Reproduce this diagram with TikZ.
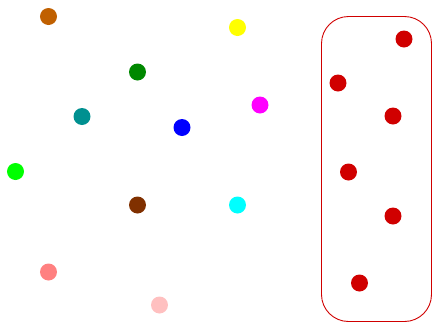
\documentclass[tikz,border=0pt]{standalone}
\usepackage{xcolor}
\usepackage{tikz}
\usetikzlibrary{positioning}

\definecolor{dotorange}{RGB}{192,96,0}
\definecolor{dotgreen}{RGB}{0,136,0}
\definecolor{dotteal}{RGB}{0,144,144}
\definecolor{dotbrown}{RGB}{128,48,0}
\definecolor{dotred}{RGB}{208,0,0}
\definecolor{dotsalmon}{RGB}{255,128,128}
\definecolor{dotpink}{RGB}{255,192,192}
\definecolor{dotmagenta}{RGB}{255,0,255}
\definecolor{dotcyan}{RGB}{0,255,255}
\definecolor{dotlime}{RGB}{0,255,0}
\definecolor{dotyellow}{RGB}{255,255,0}
\definecolor{dotblue}{RGB}{0,0,255}

\begin{document}
\begin{tikzpicture}[
  x=1bp, y=-1bp,
  dot/.style={circle, inner sep=0pt, minimum size=17bp, fill=#1},
  groupbox/.style={draw=dotred, line width=0.9bp, rounded corners=27bp},
]
\useasboundingbox (0,0) rectangle (432,322);

% Scattered dots (left area)
\node[dot=dotorange] (d1) at (48.5,16.5) {};
\node[dot=dotgreen] (d2) at (137.5,72) {};
\node[dot=dotteal] (d3) at (82,116.5) {};
\node[dot=dotblue] (d4) at (182,127.5) {};
\node[dot=dotyellow] (d5) at (237.5,27.5) {};
\node[dot=dotmagenta] (d6) at (260,105) {};
\node[dot=dotlime] (d7) at (15.5,171.5) {};
\node[dot=dotbrown] (d8) at (137.5,205) {};
\node[dot=dotcyan] (d9) at (237.5,205) {};
\node[dot=dotsalmon] (d10) at (48.5,272) {};
\node[dot=dotpink] (d11) at (159.5,305) {};

% Red group
\node[dot=dotred] (r1) at (404,39) {};
\node[dot=dotred] (r2) at (338,83) {};
\node[dot=dotred] (r3) at (393,116) {};
\node[dot=dotred] (r4) at (348.5,172) {};
\node[dot=dotred] (r5) at (393,216) {};
\node[dot=dotred] (r6) at (359.5,283) {};

% Box round the red group
\draw[groupbox] (321.5,16.5) rectangle (431.5,321.5);

\end{tikzpicture}
\end{document}
